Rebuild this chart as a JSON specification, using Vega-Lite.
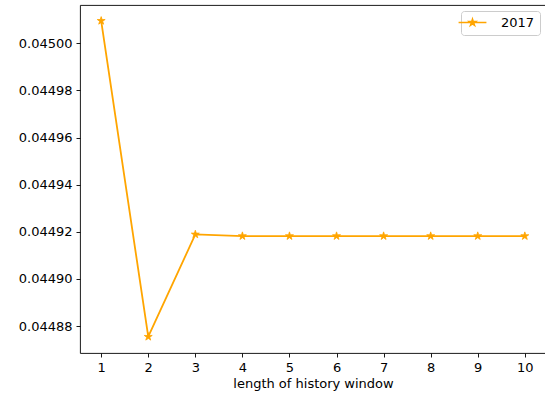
{
  "$schema": "https://vega.github.io/schema/vega-lite/v6.json",
  "width": 466,
  "height": 348,
  "autosize": "none",
  "padding": {"left": 80, "top": 5, "right": 0, "bottom": 43},
  "background": "white",
  "config": {
    "view": {"stroke": "#000000", "strokeWidth": 0.9},
    "font": "DejaVu Sans",
    "axis": {
      "grid": false,
      "domain": false,
      "tickColor": "#000000",
      "tickSize": 4,
      "tickWidth": 0.9,
      "labelFont": "DejaVu Sans",
      "labelFontSize": 13,
      "labelColor": "#000000",
      "labelPadding": 4,
      "titleFont": "DejaVu Sans",
      "titleFontSize": 13,
      "titleFontWeight": "normal",
      "titleColor": "#000000"
    }
  },
  "data": {
    "values": [
      {"window": 1, "value": 0.0450095, "series": "2017"},
      {"window": 2, "value": 0.0448755, "series": "2017"},
      {"window": 3, "value": 0.0449189, "series": "2017"},
      {"window": 4, "value": 0.0449182, "series": "2017"},
      {"window": 5, "value": 0.0449182, "series": "2017"},
      {"window": 6, "value": 0.0449182, "series": "2017"},
      {"window": 7, "value": 0.0449182, "series": "2017"},
      {"window": 8, "value": 0.0449182, "series": "2017"},
      {"window": 9, "value": 0.0449182, "series": "2017"},
      {"window": 10, "value": 0.0449182, "series": "2017"}
    ]
  },
  "mark": {
    "type": "line",
    "strokeWidth": 1.8,
    "point": {
      "shape": "M0,-1L0.2245,-0.309L0.951,-0.309L0.363,0.118L0.588,0.809L0,0.382L-0.588,0.809L-0.363,0.118L-0.951,-0.309L-0.2245,-0.309Z",
      "filled": true,
      "size": 70,
      "color": "#FFA500",
      "strokeWidth": 0.8,
      "stroke": "#FFA500",
      "opacity": 1
    }
  },
  "encoding": {
    "x": {
      "field": "window",
      "type": "quantitative",
      "scale": {"domain": [0.55, 10.45], "nice": false, "zero": false},
      "axis": {
        "values": [1, 2, 3, 4, 5, 6, 7, 8, 9, 10],
        "format": "d",
        "title": "length of history window",
        "titlePadding": 3
      }
    },
    "y": {
      "field": "value",
      "type": "quantitative",
      "scale": {"domain": [0.0448686, 0.0450162], "nice": false, "zero": false},
      "axis": {
        "values": [0.04488, 0.0449, 0.04492, 0.04494, 0.04496, 0.04498, 0.045],
        "format": ".5f",
        "title": null
      }
    },
    "color": {
      "field": "series",
      "type": "nominal",
      "scale": {"domain": ["2017"], "range": ["#FFA500"]},
      "legend": {
        "title": null,
        "orient": "top-right",
        "offset": 6,
        "symbolType": "M-4.2,0L4.2,0M0,-1L0.2245,-0.309L0.951,-0.309L0.363,0.118L0.588,0.809L0,0.382L-0.588,0.809L-0.363,0.118L-0.951,-0.309L-0.2245,-0.309Z",
        "symbolSize": 44,
        "symbolFillColor": "#FFA500",
        "symbolStrokeColor": "#FFA500",
        "symbolStrokeWidth": 1.6,
        "symbolOpacity": 1,
        "labelFontSize": 13,
        "labelFont": "DejaVu Sans",
        "labelColor": "#000000",
        "labelOffset": 22,
        "padding": 5,
        "strokeColor": "#cccccc",
        "fillColor": "#ffffff",
        "cornerRadius": 3
      }
    }
  }
}
